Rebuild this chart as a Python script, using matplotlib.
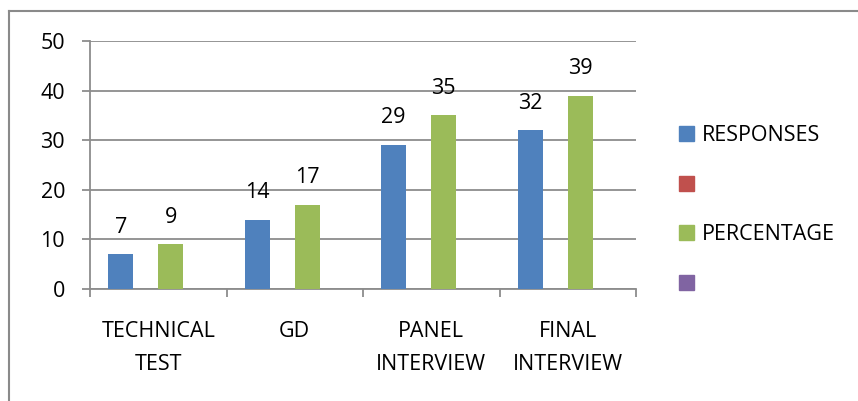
import matplotlib
matplotlib.use("Agg")
import matplotlib.pyplot as plt
import numpy as np
from matplotlib.lines import Line2D

categories = ["TECHNICAL\nTEST", "GD", "PANEL\nINTERVIEW", "FINAL\nINTERVIEW"]
responses = [7, 14, 29, 32]
percentage = [9, 17, 35, 39]
series_names = ["RESPONSES", "", "PERCENTAGE", ""]
series_colors = ["#4F81BD", "#C0504D", "#9BBB59", "#8064A2"]
yticks = [0, 10, 20, 30, 40, 50]

plt.rcParams['font.family'] = ['Open Sans', 'DejaVu Sans']
FS = 15.5
grid_c = "#8c8c8c"

fig = plt.figure(figsize=(8.58, 4.01), dpi=100)
ax = fig.add_axes([90/858, 1-289/401, (636-90)/858, (289-41)/401])

x = np.arange(len(categories))
w = 25/136.5
series_vals = [responses, [np.nan]*4, percentage, [np.nan]*4]
handles = []
for i, (vals, name, col) in enumerate(zip(series_vals, series_names, series_colors)):
    off = (i - 1.5) * w
    ax.bar(x + off, np.nan_to_num(vals, nan=0.0), width=w, color=col,
           edgecolor="none", zorder=3)
    handles.append(plt.Rectangle((0, 0), 1, 1, color=col))
    if name:
        for xi, v in zip(x + off, vals):
            ax.annotate(f"{v:g}", (xi, v), xytext=(0, 12), textcoords="offset points",
                        ha="center", va="bottom", fontsize=FS, color="black")

ax.set_xlim(-0.5, len(categories) - 0.5)
ax.set_ylim(0, 50)
ax.set_yticks(yticks)
ax.set_yticklabels([str(t) for t in yticks], fontsize=FS)
ax.set_xticks(x)
ax.set_xticklabels(categories, fontsize=FS, linespacing=1.75, va="top")
ax.set_xticks(np.arange(len(categories) + 1) - 0.5, minor=True)
ax.tick_params(axis="x", which="major", length=0, pad=23)
ax.tick_params(axis="x", which="minor", length=6, width=1.3, color=grid_c, direction="out")
ax.tick_params(axis="y", length=6, width=1.3, color=grid_c, direction="out", pad=12)

ax.grid(axis="y", color=grid_c, linewidth=1.3, zorder=0)
ax.set_axisbelow(True)
for s in ["top", "right"]:
    ax.spines[s].set_visible(False)
for s in ["left", "bottom"]:
    ax.spines[s].set_color(grid_c)
    ax.spines[s].set_linewidth(1.3)

leg = fig.legend(handles, series_names, loc="center left",
                 bbox_to_anchor=(679/858, 1-210/401), frameon=False,
                 fontsize=FS, handlelength=0.7, handleheight=0.7,
                 handletextpad=0.35, labelspacing=1.34, borderpad=0, borderaxespad=0)

# outer chart border (top and left visible)
fig.add_artist(Line2D([8.5/858, 8.5/858], [0, 1-11/401], transform=fig.transFigure,
                      color="#8a8a8a", linewidth=1.5))
fig.add_artist(Line2D([8.5/858, 1], [1-11/401, 1-11/401], transform=fig.transFigure,
                      color="#8a8a8a", linewidth=1.5))

fig.savefig("out.png", dpi=100)
